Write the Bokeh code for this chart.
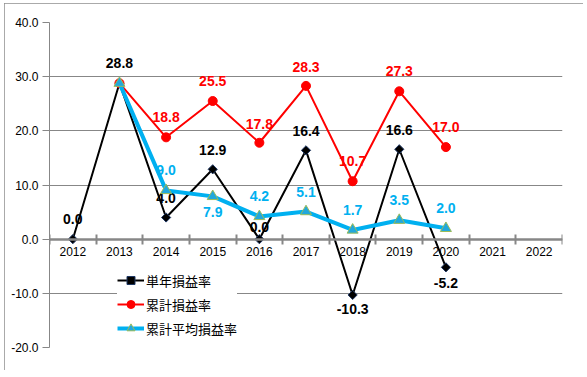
import math
from bokeh.plotting import figure
from bokeh.models import (Range1d, LinearAxis, FixedTicker, NumeralTickFormatter, Legend,
                          LegendItem, ColumnDataSource, Grid)
from bokeh.core.properties import value
from bokeh.embed import file_html
from bokeh.resources import INLINE

# ---- data ----
years = ["2012", "2013", "2014", "2015", "2016", "2017", "2018", "2019", "2020", "2021", "2022"]
single_years = ["2012", "2013", "2014", "2015", "2016", "2017", "2018", "2019", "2020"]
single_rate = [0.0, 28.8, 4.0, 12.9, 0.0, 16.4, -10.3, 16.6, -5.2]
cum_years = ["2013", "2014", "2015", "2016", "2017", "2018", "2019", "2020"]
cum_rate = [28.8, 18.8, 25.5, 17.8, 28.3, 10.7, 27.3, 17.0]
avg_rate = [28.8, 9.0, 7.9, 4.2, 5.1, 1.7, 3.5, 2.0]
y_ticks = [-20, -10, 0, 10, 20, 30, 40]

# ---- label placement (style) ----
single_label_dy = [-20, -20, -20, -19, -12, -19, 14, -19, 16]
cum_label_dy = [-20, -20, -20, -19, -19, -20, -20, -20]
avg_label_dy = [-20, -20, 16, -20, -20, -20, -20, -20]
cum_label_show = [False, True, True, True, True, True, True, True]

GRAY = "#878787"
BLACK = "#000000"
RED = "#FF0000"
BLUE = "#00B0F0"


def xpos(ys):
    return [years.index(y) + 0.5 for y in ys]


def fmt(vals, show=None):
    out = []
    for i, v in enumerate(vals):
        if show is not None and not show[i]:
            out.append("")
        else:
            out.append("%.1f" % v)
    return out


src_single = ColumnDataSource(dict(x=xpos(single_years), y=single_rate,
                                   t=fmt(single_rate), dy=single_label_dy))
src_cum = ColumnDataSource(dict(x=xpos(cum_years), y=cum_rate,
                                t=fmt(cum_rate, cum_label_show), dy=cum_label_dy))
src_avg = ColumnDataSource(dict(x=xpos(cum_years), y=avg_rate,
                                t=fmt(avg_rate, cum_label_show), dy=avg_label_dy))

p = figure(width=579, height=367, x_range=Range1d(0, len(years)), y_range=Range1d(-20, 40),
           output_backend="svg", toolbar_location=None,
           x_axis_location=None, y_axis_location=None,
           min_border_left=45, min_border_right=21, min_border_top=19, min_border_bottom=23)
p.margin = (3, 0, 0, 4)
p.styles = {"outline": "1px solid #8E8E8E", "outline-offset": "-1px"}
p.outline_line_color = None
p.background_fill_color = "white"
p.border_fill_color = "white"
# drop default grids
p.center = [r for r in p.center if not isinstance(r, Grid)]

# y axis
yaxis = LinearAxis(ticker=FixedTicker(ticks=y_ticks), formatter=NumeralTickFormatter(format="0.0"))
yaxis.axis_line_color = GRAY
yaxis.axis_line_width = 1
yaxis.major_tick_out = 7
yaxis.major_tick_in = 0
yaxis.major_tick_line_color = GRAY
yaxis.minor_tick_line_color = None
yaxis.major_label_standoff = 4
yaxis.major_label_text_font = "Liberation Sans"
yaxis.major_label_text_font_size = "12px"
yaxis.major_label_text_color = "#000000"
p.add_layout(yaxis, "left")

grid = Grid(dimension=1, ticker=yaxis.ticker)
grid.grid_line_color = GRAY
grid.grid_line_width = 1
p.add_layout(grid)

# x axis crossing at y = 0: labels at category centres
xaxis = LinearAxis(ticker=FixedTicker(ticks=[i + 0.5 for i in range(len(years))], minor_ticks=[]),
                   fixed_location=0,
                   major_label_overrides={i + 0.5: years[i] for i in range(len(years))})
xaxis.axis_line_color = GRAY
xaxis.axis_line_width = 2.5
xaxis.major_tick_line_color = None
xaxis.major_tick_in = 0
xaxis.major_tick_out = 0
xaxis.minor_tick_line_color = None
xaxis.major_label_standoff = 8
xaxis.major_label_text_font = "Liberation Sans"
xaxis.major_label_text_font_size = "12px"
xaxis.major_label_text_color = "#000000"
p.add_layout(xaxis, "below")

# tick marks between categories
xticks = LinearAxis(ticker=FixedTicker(ticks=list(range(len(years) + 1)), minor_ticks=[]),
                    fixed_location=0,
                    major_label_overrides={i: "" for i in range(len(years) + 1)})
xticks.axis_line_color = None
xticks.major_tick_line_color = GRAY
xticks.major_tick_line_width = 2
xticks.major_tick_in = 5
xticks.major_tick_out = 5
xticks.minor_tick_line_color = None
xticks.major_label_standoff = 0
xticks.major_label_text_font_size = "1px"
p.add_layout(xticks, "above")

label_kw = dict(text_font=value("Liberation Sans"), text_font_style="bold", text_font_size="14px",
                text_align="center", text_baseline="middle", y_offset="dy")

# single-year
l1 = p.line("x", "y", source=src_single, line_color=BLACK, line_width=2)
m1 = p.scatter("x", "y", source=src_single, marker="square", size=6.5, angle=math.pi / 4,
               fill_color=BLACK, line_color="#1F3864", line_width=1)
p.text("x", "y", text="t", source=src_single, text_color=BLACK, **label_kw)

# cumulative
l2 = p.line("x", "y", source=src_cum, line_color=RED, line_width=2)
m2 = p.scatter("x", "y", source=src_cum, marker="circle", size=9,
               fill_color=RED, line_color=RED, line_width=1)
p.text("x", "y", text="t", source=src_cum, text_color=RED, **label_kw)

# cumulative average
l3 = p.line("x", "y", source=src_avg, line_color=BLUE, line_width=4)
m3 = p.scatter("x", "y", source=src_avg, marker="triangle", size=11,
               fill_color="#22A8DC", line_color="#9BBB59", line_width=1)
p.text("x", "y", text="t", source=src_avg, text_color=BLUE, **label_kw)

legend = Legend(items=[LegendItem(label="単年損益率", renderers=[l1, m1]),
                       LegendItem(label="累計損益率", renderers=[l2, m2]),
                       LegendItem(label="累計平均損益率", renderers=[l3, m3])],
                location=(68, 9))
legend.glyph_width = 27
legend.glyph_height = 20
legend.label_height = 20
legend.spacing = 4
legend.padding = 5
legend.margin = 0
legend.label_standoff = 2
legend.label_text_font = "Noto Sans CJK JP"
legend.label_text_font_size = "13px"
legend.label_text_color = "#000000"
legend.background_fill_color = "white"
legend.background_fill_alpha = 1
legend.border_line_color = None
p.add_layout(legend)

open("out.html", "w").write(file_html(p, INLINE))
